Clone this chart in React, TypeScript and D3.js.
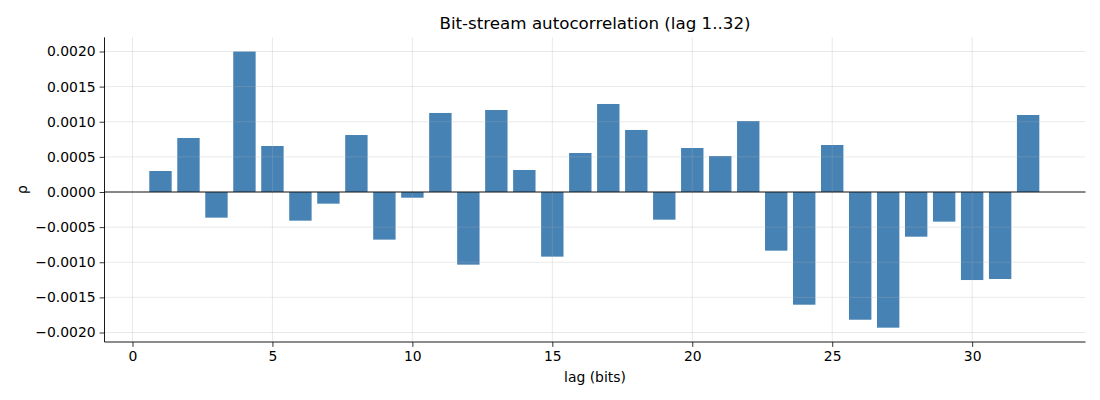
import React, { useRef, useEffect } from "react";
import * as d3 from "d3";

// autocorrelation per lag
const lags: number[] = d3.range(1, 33);
const rho: number[] = [
  0.000299, 0.000769, -0.000365, 0.002, 0.000655, -0.000408, -0.000166, 0.000811,
  -0.000678, -0.000081, 0.001125, -0.001034, 0.001167, 0.000313, -0.00092, 0.000555,
  0.001253, 0.000883, -0.000394, 0.000626, 0.000512, 0.00101, -0.000835, -0.001604,
  0.000669, -0.001818, -0.001931, -0.000636, -0.000422, -0.001253, -0.001238, 0.001096,
];
const xTicks: number[] = [0, 5, 10, 15, 20, 25, 30];
const yTicks: number[] = [-0.002, -0.0015, -0.001, -0.0005, 0, 0.0005, 0.001, 0.0015, 0.002];

const App: React.FC = () => {
  const ref = useRef<SVGSVGElement | null>(null);

  useEffect(() => {
    if (!ref.current) return;
    const svg = d3.select(ref.current);
    svg.selectAll("*").remove();

    const width = 1100;
    const height = 400;
    const m = { left: 104.5, right: 1085.5, top: 37.3, bottom: 342 };
    const font = "DejaVu Sans, sans-serif";

    svg.attr("width", width).attr("height", height);

    const x = d3.scaleLinear().domain([-1, 34.05]).range([m.left, m.right]);
    const y = d3.scaleLinear().domain([-0.002135, 0.002202]).range([m.bottom, m.top]);
    const bw = x(0.8) - x(0);

    // bars
    svg
      .append("g")
      .selectAll("rect")
      .data(lags)
      .enter()
      .append("rect")
      .attr("x", (d) => x(d - 0.4))
      .attr("width", bw)
      .attr("y", (d, i) => y(Math.max(0, rho[i])))
      .attr("height", (d, i) => Math.abs(y(rho[i]) - y(0)))
      .attr("fill", "steelblue");

    // grid over the bars, like matplotlib
    const grid = svg.append("g").attr("stroke", "#b0b0b0").attr("stroke-opacity", 0.35).attr("stroke-width", 0.8);
    grid
      .selectAll("line.v")
      .data(xTicks)
      .enter()
      .append("line")
      .attr("x1", (d) => x(d))
      .attr("x2", (d) => x(d))
      .attr("y1", m.top)
      .attr("y2", m.bottom);
    grid
      .selectAll("line.h")
      .data(yTicks)
      .enter()
      .append("line")
      .attr("x1", m.left)
      .attr("x2", m.right)
      .attr("y1", (d) => y(d))
      .attr("y2", (d) => y(d));

    // zero line
    svg
      .append("line")
      .attr("x1", m.left)
      .attr("x2", m.right)
      .attr("y1", y(0))
      .attr("y2", y(0))
      .attr("stroke", "#000")
      .attr("stroke-width", 0.9);

    // axes
    const xAxis = svg
      .append("g")
      .attr("transform", `translate(0,${m.bottom})`)
      .call(d3.axisBottom(x).tickValues(xTicks).tickSize(4.9).tickPadding(4).tickFormat(d3.format("d")));
    const yAxis = svg
      .append("g")
      .attr("transform", `translate(${m.left},0)`)
      .call(
        d3
          .axisLeft(y)
          .tickValues(yTicks)
          .tickSize(4.9)
          .tickPadding(4)
          .tickFormat((d) => d3.format(".4f")(d as number).replace("-", "\u2212"))
      );
    for (const a of [xAxis, yAxis]) {
      a.select(".domain").attr("stroke", "#000").attr("stroke-width", 0.9);
      a.selectAll(".tick line").attr("stroke", "#000").attr("stroke-width", 0.8);
      a.selectAll(".tick text").attr("font-family", font).attr("font-size", 13.9).attr("fill", "#000");
    }
    xAxis.select(".domain").attr("d", `M${m.left},0H${m.right}`);
    yAxis.select(".domain").attr("d", `M0,${m.top}V${m.bottom}`);

    // labels
    svg
      .append("text")
      .attr("x", (m.left + m.right) / 2)
      .attr("y", 29)
      .attr("text-anchor", "middle")
      .attr("font-family", font)
      .attr("font-size", 16.7)
      .text("Bit-stream autocorrelation (lag 1..32)");
    svg
      .append("text")
      .attr("x", (m.left + m.right) / 2)
      .attr("y", 382)
      .attr("text-anchor", "middle")
      .attr("font-family", font)
      .attr("font-size", 13.9)
      .text("lag (bits)");
    svg
      .append("text")
      .attr("transform", `translate(27,${(m.top + m.bottom) / 2}) rotate(-90)`)
      .attr("text-anchor", "middle")
      .attr("font-family", font)
      .attr("font-size", 13.9)
      .text("ρ");
  }, []);

  return <svg ref={ref} style={{ position: "absolute", left: 0, top: 0 }} />;
};

export default App;
